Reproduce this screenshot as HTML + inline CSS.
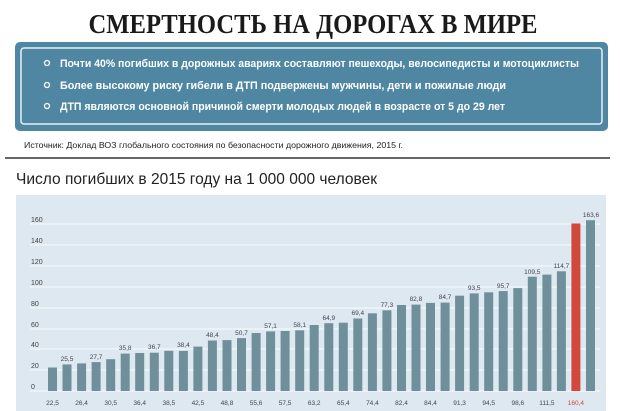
<!DOCTYPE html>
<html><head><meta charset="utf-8"><style>
html,body{margin:0;padding:0;background:#fff}
svg{display:block}
</style></head><body>
<svg width="620" height="411" viewBox="0 0 620 411" xmlns="http://www.w3.org/2000/svg">
<text x="313" y="33" text-anchor="middle" font-family="Liberation Serif, serif" font-weight="bold" font-size="27" fill="#1a1a1a" textLength="449" lengthAdjust="spacingAndGlyphs">СМЕРТНОСТЬ НА ДОРОГАХ В МИРЕ</text>
<rect x="15" y="42" width="593" height="89" rx="5" fill="#4f87a3"/>
<rect x="21" y="48" width="581" height="76" rx="3" fill="none" stroke="#e6f0f5" stroke-width="1.5"/>
<g font-family="Liberation Sans, sans-serif" font-weight="bold" font-size="11" fill="#fff">
<circle cx="47" cy="63" r="2.5" fill="none" stroke="#fff" stroke-width="1.3"/>
<text x="60" y="67" textLength="519" lengthAdjust="spacingAndGlyphs">Почти 40% погибших в дорожных авариях составляют пешеходы, велосипедисты и мотоциклисты</text>
<circle cx="47" cy="85" r="2.5" fill="none" stroke="#fff" stroke-width="1.3"/>
<text x="60" y="89" textLength="446" lengthAdjust="spacingAndGlyphs">Более высокому риску гибели в ДТП подвержены мужчины, дети и пожилые люди</text>
<circle cx="47" cy="106" r="2.5" fill="none" stroke="#fff" stroke-width="1.3"/>
<text x="60" y="110" textLength="445" lengthAdjust="spacingAndGlyphs">ДТП являются основной причиной смерти молодых людей в возрасте от 5 до 29 лет</text>
</g>
<text x="24" y="148" font-family="Liberation Sans, sans-serif" font-size="8.5" fill="#222" textLength="379" lengthAdjust="spacingAndGlyphs">Источник: Доклад ВОЗ глобального состояния по безопасности дорожного движения, 2015 г.</text>
<rect x="5" y="157" width="605" height="2" fill="#666"/>
<text x="16" y="184" font-family="Liberation Sans, sans-serif" font-size="16" fill="#222" textLength="361" lengthAdjust="spacingAndGlyphs">Число погибших в 2015 году на 1 000 000 человек</text>
<rect x="16" y="195" width="590" height="216" fill="#dde8f0"/>
<g stroke="#f4f8fb" stroke-width="1.2">
<line x1="30" x2="600" y1="224" y2="224"/><line x1="30" x2="600" y1="245" y2="245"/>
<line x1="30" x2="600" y1="266" y2="266"/><line x1="30" x2="600" y1="287" y2="287"/>
<line x1="30" x2="600" y1="308" y2="308"/><line x1="30" x2="600" y1="329" y2="329"/>
<line x1="30" x2="600" y1="349" y2="349"/><line x1="30" x2="600" y1="370" y2="370"/>
<line x1="30" x2="600" y1="391" y2="391"/>
</g>
<g font-family="Liberation Sans, sans-serif" font-size="7" fill="#444">
<text x="31" y="222">160</text><text x="31" y="243">140</text><text x="31" y="264">120</text>
<text x="31" y="285">100</text><text x="31" y="306">80</text><text x="31" y="327">60</text>
<text x="31" y="347">40</text><text x="31" y="368">20</text><text x="31" y="389">0</text>
</g>
<g transform="translate(0,391) scale(1,-1)" fill="#6f8f9a">
<rect x="48" y="0" width="9" height="23.5"/><rect x="62.5" y="0" width="9" height="26.6"/>
<rect x="77.1" y="0" width="9" height="27.6"/><rect x="91.6" y="0" width="9" height="28.9"/>
<rect x="106.2" y="0" width="9" height="31.8"/><rect x="120.7" y="0" width="9" height="37.4"/>
<rect x="135.2" y="0" width="9" height="38"/><rect x="149.8" y="0" width="9" height="38.3"/>
<rect x="164.3" y="0" width="9" height="40.2"/><rect x="178.9" y="0" width="9" height="40.1"/>
<rect x="193.4" y="0" width="9" height="44.4"/><rect x="207.9" y="0" width="9" height="50.5"/>
<rect x="222.5" y="0" width="9" height="50.9"/><rect x="237" y="0" width="9" height="52.9"/>
<rect x="251.6" y="0" width="9" height="58"/><rect x="266.1" y="0" width="9" height="59.6"/>
<rect x="280.6" y="0" width="9" height="60"/><rect x="295.2" y="0" width="9" height="60.7"/>
<rect x="309.7" y="0" width="9" height="66"/><rect x="324.3" y="0" width="9" height="67.8"/>
<rect x="338.8" y="0" width="9" height="68.3"/><rect x="353.3" y="0" width="9" height="72.5"/>
<rect x="367.9" y="0" width="9" height="77.7"/><rect x="382.4" y="0" width="9" height="80.7"/>
<rect x="397" y="0" width="9" height="86"/><rect x="411.5" y="0" width="9" height="86.4"/>
<rect x="426" y="0" width="9" height="88.1"/><rect x="440.6" y="0" width="9" height="88.4"/>
<rect x="455.1" y="0" width="9" height="95.3"/><rect x="469.7" y="0" width="9" height="97.6"/>
<rect x="484.2" y="0" width="9" height="98.7"/><rect x="498.7" y="0" width="9" height="99.9"/>
<rect x="513.3" y="0" width="9" height="102.9"/><rect x="527.8" y="0" width="9" height="114.3"/>
<rect x="542.4" y="0" width="9" height="116.4"/><rect x="556.9" y="0" width="9" height="119.7"/>
<rect x="571.4" y="0" width="9" height="167.5" fill="#d2483c"/><rect x="586" y="0" width="9" height="170.8"/>
</g>
<g font-family="Liberation Sans, sans-serif" font-size="6.5" fill="#445" text-anchor="middle">
<text x="52.5" y="405">22,5</text><text x="81.6" y="405">26,4</text><text x="110.7" y="405">30,5</text>
<text x="139.7" y="405">36,4</text><text x="168.8" y="405">38,5</text><text x="197.9" y="405">42,5</text>
<text x="227" y="405">48,8</text><text x="256.1" y="405">55,6</text><text x="285.1" y="405">57,5</text>
<text x="314.2" y="405">63,2</text><text x="343.3" y="405">65,4</text><text x="372.4" y="405">74,4</text>
<text x="401.5" y="405">82,4</text><text x="430.5" y="405">84,4</text><text x="459.6" y="405">91,3</text>
<text x="488.7" y="405">94,5</text><text x="517.8" y="405">98,6</text><text x="546.9" y="405">111,5</text>
<text x="575.9" y="405" fill="#d2483c">160,4</text>
<text x="67" y="361">25,5</text><text x="96.1" y="359">27,7</text><text x="125.2" y="350">35,8</text>
<text x="154.3" y="349">36,7</text><text x="183.4" y="347">38,4</text><text x="212.4" y="337">48,4</text>
<text x="241.5" y="335">50,7</text><text x="270.6" y="328">57,1</text><text x="299.7" y="327">58,1</text>
<text x="328.8" y="320">64,9</text><text x="357.8" y="315">69,4</text><text x="386.9" y="307">77,3</text>
<text x="415.9" y="301">82,8</text><text x="445.1" y="299">84,7</text><text x="474.2" y="290">93,5</text>
<text x="503.2" y="288">95,7</text><text x="532.3" y="274">109,5</text><text x="561.4" y="268">114,7</text>
<text x="591" y="217">163,6</text>
</g>
</svg>
</body></html>
